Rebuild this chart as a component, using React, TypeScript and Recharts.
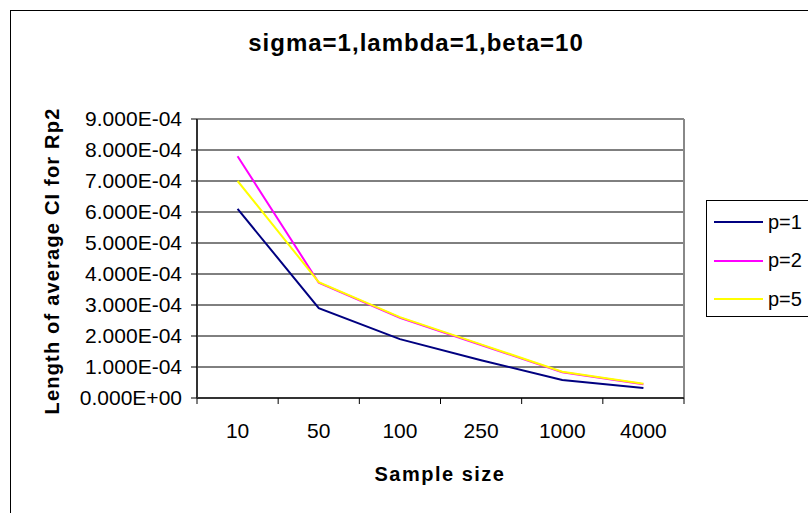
import React from 'react';
import { LineChart, Line, XAxis, YAxis, CartesianGrid, Legend } from 'recharts';

const sampleSizes = ['10', '50', '100', '250', '1000', '4000'];
const p1 = [6.1e-4, 2.9e-4, 1.9e-4, 1.22e-4, 0.58e-4, 0.32e-4];
const p2 = [7.8e-4, 3.72e-4, 2.59e-4, 1.71e-4, 0.83e-4, 0.44e-4];
const p5 = [7.0e-4, 3.74e-4, 2.61e-4, 1.73e-4, 0.85e-4, 0.46e-4];
const yTicks = [0, 1e-4, 2e-4, 3e-4, 4e-4, 5e-4, 6e-4, 7e-4, 8e-4, 9e-4];

const series = [
  { key: 'p1', name: 'p=1', color: '#000080' },
  { key: 'p2', name: 'p=2', color: '#FF00FF' },
  { key: 'p5', name: 'p=5', color: '#FFFF00' },
];

const data = sampleSizes.map((n, i) => ({ n, p1: p1[i], p2: p2[i], p5: p5[i] }));

const FONT = '"Liberation Sans", Arial, sans-serif';
const PLOT_LEFT = 197;
const PLOT_RIGHT = 684;
const PLOT_TOP = 119;
const PLOT_BOTTOM = 398;
const BAND = (PLOT_RIGHT - PLOT_LEFT) / sampleSizes.length;

const sci = (v: number) => {
  const [m, e] = v.toExponential(3).split('e');
  const sign = e[0] === '-' ? '-' : '+';
  const digits = e.replace(/[+-]/, '').padStart(2, '0');
  return `${m}E${sign}${digits}`;
};

const XTick = (props: any) => {
  const { x, payload, index } = props;
  const half = BAND / 2;
  const last = index === sampleSizes.length - 1;
  return (
    <g>
      <line x1={x - half} x2={x - half} y1={PLOT_BOTTOM} y2={PLOT_BOTTOM + 6} stroke='#000' />
      {last && <line x1={x + half} x2={x + half} y1={PLOT_BOTTOM} y2={PLOT_BOTTOM + 6} stroke='#000' />}
      <text x={x} y={PLOT_BOTTOM + 25} dy='0.71em' textAnchor='middle' fill='#000' fontSize={21} fontFamily={FONT}>
        {payload.value}
      </text>
    </g>
  );
};

const LegendBox = () => (
  <div
    style={{
      width: 120,
      height: 115,
      border: '1px solid #000',
      background: '#fff',
      fontFamily: FONT,
      fontSize: 20,
      position: 'relative',
    }}
  >
    {series.map((s, i) => (
      <div key={s.key} style={{ position: 'absolute', left: 7, top: 9 + i * 38.5, height: 24, display: 'flex', alignItems: 'center' }}>
        <div style={{ width: 49, height: 2, background: s.color, marginRight: 5 }} />
        <span style={{ color: '#000' }}>{s.name}</span>
      </div>
    ))}
  </div>
);

const App = () => {
  return (
    <div style={{ position: 'absolute', left: 0, top: 0, width: 808, height: 513, overflow: 'hidden', background: '#fff' }}>
      <div style={{ position: 'absolute', left: 10, top: 10, width: 900, height: 600, borderLeft: '1px solid #000', borderTop: '1px solid #000' }} />
      <div style={{ position: 'absolute', left: 0, top: 0 }}>
        <LineChart
          width={808}
          height={513}
          data={data}
          margin={{ top: PLOT_TOP, right: 808 - PLOT_RIGHT, bottom: 513 - PLOT_BOTTOM - 60, left: PLOT_LEFT - 100 }}
        >
          <CartesianGrid vertical={false} stroke='#000' />
          {/* plot area frame: top and right edges */}
          <CartesianGrid
            stroke='#888'
            strokeWidth={2}
            horizontalCoordinatesGenerator={({ offset }: any) => [offset.top]}
            verticalCoordinatesGenerator={({ offset }: any) => [offset.left + offset.width]}
          />
          <XAxis
            dataKey='n'
            height={60}
            interval={0}
            padding={{ left: BAND / 2, right: BAND / 2 }}
            tickLine={false}
            axisLine={{ stroke: '#333', strokeWidth: 2 }}
            tick={<XTick />}
          />
          <YAxis
            width={100}
            domain={[0, 9e-4]}
            ticks={yTicks}
            interval={0}
            tickFormatter={sci}
            tickSize={6}
            tickMargin={9}
            tickLine={{ stroke: '#000' }}
            axisLine={{ stroke: '#333', strokeWidth: 2 }}
            tick={{ fill: '#000', fontSize: 21, fontFamily: FONT }}
          />
          <Legend
            layout='vertical'
            align='center'
            verticalAlign='middle'
            wrapperStyle={{ position: 'absolute', left: 706, top: 200, width: 122 }}
            content={() => <LegendBox />}
          />
          {series.map(s => (
            <Line
              key={s.key}
              type='linear'
              dataKey={s.key}
              name={s.name}
              stroke={s.color}
              strokeWidth={2}
              dot={false}
              isAnimationActive={false}
            />
          ))}
        </LineChart>
      </div>
      <div style={{ position: 'absolute', left: 216, width: 400, top: 28, textAlign: 'center', fontFamily: FONT, fontWeight: 'bold', fontSize: 24, letterSpacing: 1, lineHeight: '30px' }}>
        sigma=1,lambda=1,beta=10
      </div>
      <div
        style={{
          position: 'absolute',
          left: 52 - 200,
          top: 261 - 14,
          width: 400,
          textAlign: 'center',
          transform: 'rotate(-90deg)',
          fontFamily: FONT,
          fontWeight: 'bold',
          fontSize: 20,
          letterSpacing: 1.2,
          lineHeight: '28px',
        }}
      >
        Length of average CI for Rp2
      </div>
      <div style={{ position: 'absolute', left: 240, width: 400, top: 460, textAlign: 'center', fontFamily: FONT, fontWeight: 'bold', fontSize: 20, letterSpacing: 1.5, lineHeight: '28px' }}>
        Sample size
      </div>
    </div>
  );
};

export default App;
